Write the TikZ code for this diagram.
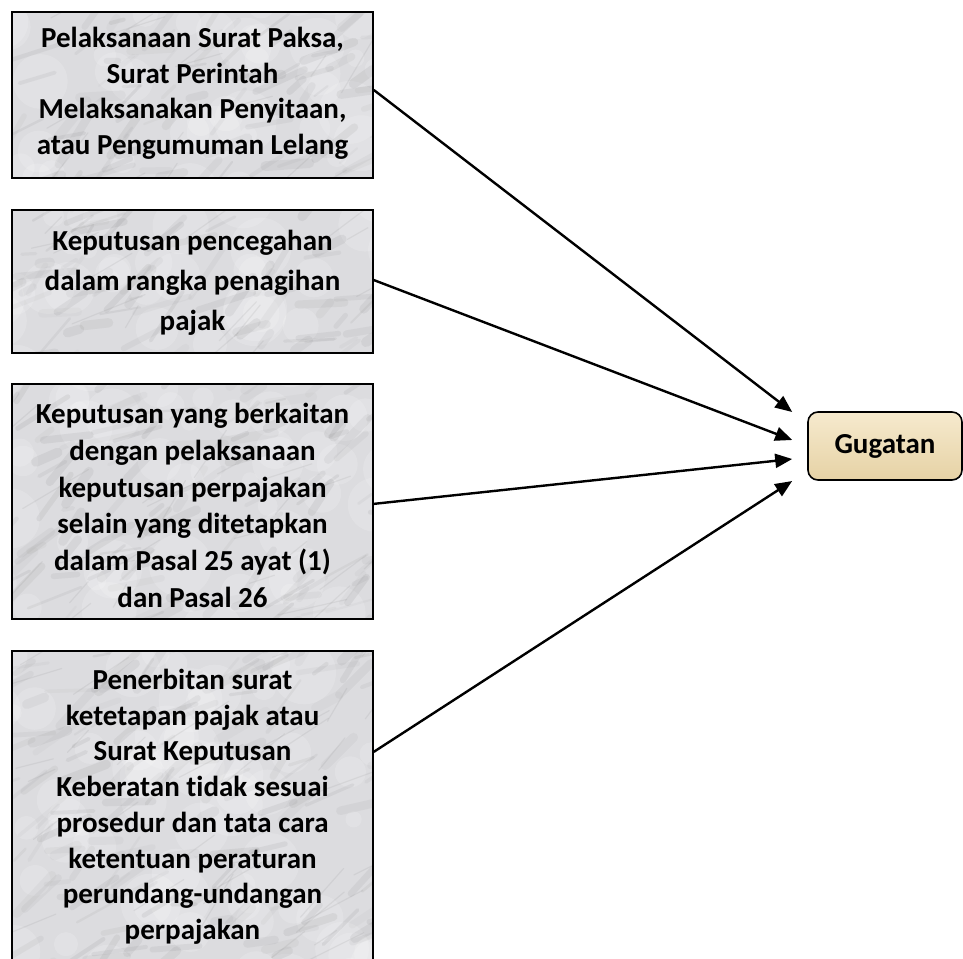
\documentclass[tikz,border=0pt]{standalone}
\usepackage{fontspec}
\setmainfont{Carlito}[Ligatures=NoCommon]
\usetikzlibrary{arrows.meta,calc}

\definecolor{marblebase}{RGB}{220,220,223}
\definecolor{tanlight}{RGB}{246,234,206}
\definecolor{tandark}{RGB}{230,210,165}

% soft grey veins and light clouds that give the boxes a marble look
\newcommand\drawmarbleveins{%
  \foreach \k in {1,...,70}{%
    \pgfmathsetmacro\cx{200*rand}%
    \pgfmathsetmacro\cy{180*rand}%
    \pgfmathsetmacro\rr{8+24*rnd}%
    \fill[white, opacity=0.16]
      ([shift={(\cx pt,\cy pt)}]path picture bounding box.center) circle[radius=\rr pt];
  }%
  \foreach \k in {1,...,170}{%
    \pgfmathsetmacro\cx{200*rand}%
    \pgfmathsetmacro\cy{180*rand}%
    \pgfmathsetmacro\len{10+50*rnd}%
    \pgfmathsetmacro\ang{30+30*rand}%
    \pgfmathsetmacro\lw{2+8*rnd}%
    \pgfmathsetmacro\sh{35+40*rnd}%
    \draw[line width=\lw pt, draw=black!\sh, opacity=0.08, line cap=round]
      ([shift={(\cx pt,\cy pt)}]path picture bounding box.center) -- ++(\ang:\len pt);
  }%
  \foreach \k in {1,...,40}{%
    \pgfmathsetmacro\cx{200*rand}%
    \pgfmathsetmacro\cy{180*rand}%
    \pgfmathsetmacro\len{20+60*rnd}%
    \pgfmathsetmacro\ang{35+25*rand}%
    \draw[line width=1.2pt, draw=black!50, opacity=0.12, line cap=round]
      ([shift={(\cx pt,\cy pt)}]path picture bounding box.center) -- ++(\ang:\len pt);
  }%
}

\begin{document}
\begin{tikzpicture}[x=1pt,y=-1pt,
  marble/.style={draw=black, line width=1.6pt, fill=marblebase,
    minimum width=361pt, inner sep=0pt, path picture={\drawmarbleveins}},
  boxtext/.style={font=\bfseries\fontsize{29}{#1}\selectfont,
    align=center, inner sep=0pt, anchor=north},
  gugbox/.style={draw=black, line width=1.6pt, rounded corners=10pt,
    top color=tanlight, bottom color=tandark, minimum width=154pt,
    minimum height=68pt, inner sep=0pt,
    font=\bfseries\fontsize{29}{34}\selectfont},
  link/.style={line width=2.4pt, -{Triangle[length=17pt,width=14pt]}}
]
\useasboundingbox (0,0) rectangle (963,958);

% source boxes
\pgfmathsetseed{11}
\node[marble, minimum height=166pt] (box1) at (192.5,95) {};
\pgfmathsetseed{23}
\node[marble, minimum height=143pt] (box2) at (192.5,281.5) {};
\pgfmathsetseed{37}
\node[marble, minimum height=235pt] (box3) at (192.5,501.5) {};
\pgfmathsetseed{51}
\node[marble, minimum height=316pt] (box4) at (192.5,809) {};

% box captions
\node[boxtext=35.5pt] (txt1) at (192.5,27)
  {Pelaksanaan Surat Paksa,\\Surat Perintah\\Melaksanakan Penyitaan,\\atau Pengumuman Lelang};
\node[boxtext=40pt] (txt2) at (192.5,230)
  {Keputusan pencegahan\\dalam rangka penagihan\\pajak};
\node[boxtext=36.8pt] (txt3) at (192.5,403)
  {Keputusan yang berkaitan\\dengan pelaksanaan\\keputusan perpajakan\\selain yang ditetapkan\\dalam Pasal 25 ayat (1)\\dan Pasal 26};
\node[boxtext=35.7pt] (txt4) at (192.5,669)
  {Penerbitan surat\\ketetapan pajak atau\\Surat Keputusan\\Keberatan tidak sesuai\\prosedur dan tata cara\\ketentuan peraturan\\perundang-undangan\\perpajakan};

% target
\node[gugbox] (gug) at (885,446) {Gugatan};

% arrow tips stop short of the target box
\coordinate (e1) at ($(gug.west)+(-15,-34)$);
\coordinate (e2) at ($(gug.west)+(-15,-6)$);
\coordinate (e3) at ($(gug.west)+(-15,13)$);
\coordinate (e4) at ($(gug.west)+(-15,35)$);

\draw[link] ($(box1.north east)!0.47!(box1.south east)$) -- (e1);
\draw[link] ($(box2.north east)!0.49!(box2.south east)$) -- (e2);
\draw[link] ($(box3.north east)!0.51!(box3.south east)$) -- (e3);
\draw[link] ($(box4.north east)!0.32!(box4.south east)$) -- (e4);
\end{tikzpicture}
\end{document}
